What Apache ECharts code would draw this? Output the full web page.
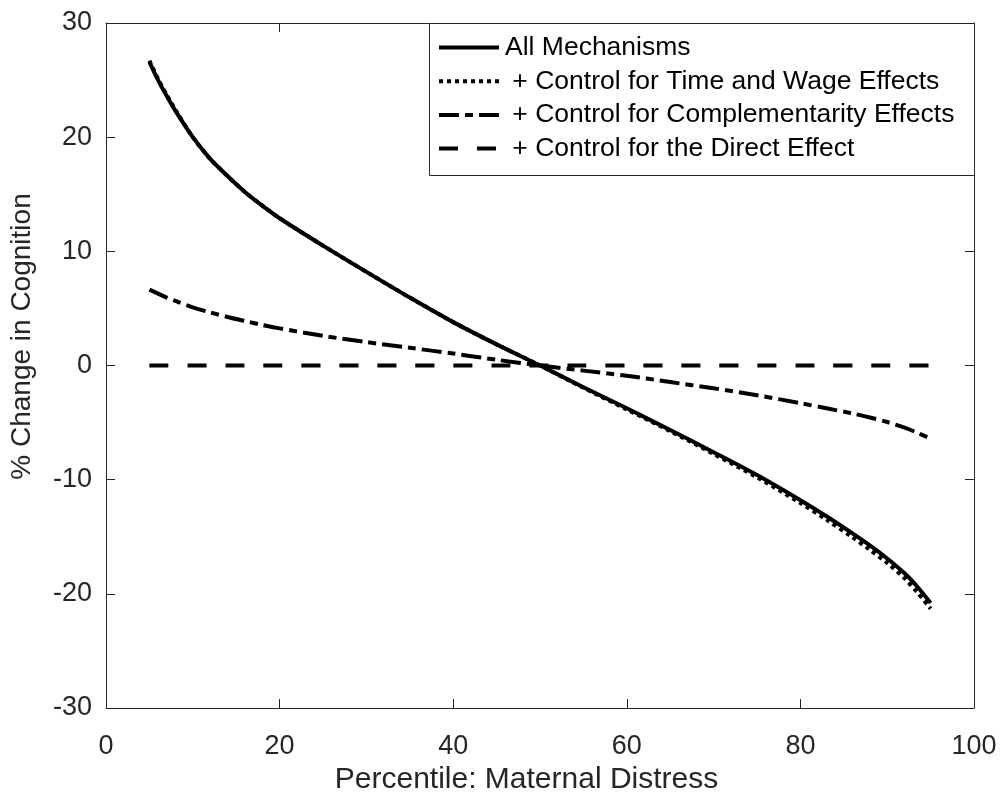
<!DOCTYPE html>
<html>
<head>
<meta charset="utf-8">
<title>% Change in Cognition by Maternal Distress Percentile</title>
<script src="https://cdn.jsdelivr.net/npm/echarts@6/dist/echarts.min.js"></script>
<style>
  html, body { margin: 0; padding: 0; background: #ffffff; }
  #chart { width: 1000px; height: 795px; }
</style>
</head>
<body>
<div id="chart"></div>
<script>
// Percentiles of maternal distress at which the effects are evaluated
const percentiles = [5, 6, 7, 8, 10, 12, 14, 16, 18, 20, 25, 30, 35, 40, 45, 50, 55, 60, 65, 70, 75, 80, 83, 86, 88, 90, 92, 93.5, 95];

// % change in cognition under each decomposition
const allMechanisms   = [26.6, 25.0, 23.6, 22.3, 20.0, 18.1, 16.6, 15.2, 14.0, 12.9, 10.5, 8.2, 5.95, 3.8, 1.85, 0, -1.9, -3.75, -5.65, -7.6, -9.6, -11.8, -13.2, -14.7, -15.75, -16.9, -18.2, -19.4, -20.8];
const timeWage        = [26.7, 25.1, 23.7, 22.4, 20.0, 18.1, 16.6, 15.2, 14.0, 12.9, 10.5, 8.2, 5.95, 3.8, 1.85, 0, -1.95, -3.85, -5.75, -7.75, -9.8, -12.05, -13.5, -15.05, -16.15, -17.3, -18.65, -19.9, -21.3];
const complementarity = [6.65, 6.3, 5.95, 5.65, 5.1, 4.65, 4.25, 3.9, 3.55, 3.25, 2.6, 2.05, 1.55, 1.05, 0.5, 0, -0.45, -0.9, -1.45, -2.0, -2.6, -3.3, -3.75, -4.2, -4.55, -4.95, -5.45, -5.9, -6.4];
const directEffect    = [0, 0, 0, 0, 0, 0, 0, 0, 0, 0, 0, 0, 0, 0, 0, 0, 0, 0, 0, 0, 0, 0, 0, 0, 0, 0, 0, 0, 0];

const seriesNames = [
  'All Mechanisms',
  ' + Control for Time and Wage Effects',
  ' + Control for Complementarity Effects',
  ' + Control for the Direct Effect'
];

const xTicks = [0, 20, 40, 60, 80, 100];
const yTicks = [-30, -20, -10, 0, 10, 20, 30];

const FONT = '"Liberation Sans", Arial, Helvetica, sans-serif';
const AXIS_COLOR = '#262626';

const pairs = (ys) => percentiles.map((p, i) => [p, ys[i]]);

const gridBox = { left: 106, top: 23, width: 868, height: 685, outerBoundsMode: 'none', containLabel: false };

const baseX = {
  type: 'value',
  min: xTicks[0],
  max: xTicks[xTicks.length - 1],
  interval: xTicks[1] - xTicks[0],
  splitLine: { show: false },
  axisLine: { show: true, onZero: false, lineStyle: { color: AXIS_COLOR, width: 1 } },
  axisTick: { show: true, inside: true, length: 9, lineStyle: { color: AXIS_COLOR, width: 1 } }
};
const baseY = {
  type: 'value',
  min: yTicks[0],
  max: yTicks[yTicks.length - 1],
  interval: yTicks[1] - yTicks[0],
  splitLine: { show: false },
  axisLine: { show: true, onZero: false, lineStyle: { color: AXIS_COLOR, width: 1 } },
  axisTick: { show: true, inside: true, length: 9, lineStyle: { color: AXIS_COLOR, width: 1 } }
};

function lineSeries(name, ys, type, z) {
  return {
    name: name,
    type: 'line',
    data: pairs(ys),
    xAxisIndex: 0,
    yAxisIndex: 0,
    smooth: 0.3,
    symbol: 'none',
    showSymbol: false,
    silent: true,
    z: z,
    itemStyle: { color: '#000000' },
    lineStyle: { color: '#000000', width: 4, type: type, cap: 'butt', join: 'round' }
  };
}

const chart = echarts.init(document.getElementById('chart'), null, { renderer: 'canvas' });

chart.setOption({
  backgroundColor: '#ffffff',
  animation: false,
  grid: gridBox,
  graphic: [{
    type: 'rect',
    left: 429,
    top: 23,
    z: 3,
    shape: { width: 545, height: 152 },
    style: { fill: '#ffffff', stroke: AXIS_COLOR, lineWidth: 1 }
  }],
  legend: {
    orient: 'vertical',
    left: 437,
    top: 34,
    padding: 0,
    itemWidth: 60,
    itemHeight: 26,
    itemGap: 6.7,
    z: 5,
    selectedMode: false,
    data: seriesNames,
    itemStyle: { opacity: 0 },
    lineStyle: { width: 4, color: '#000000', cap: 'butt' },
    textStyle: { fontFamily: FONT, fontSize: 26.5, color: '#000000', lineHeight: 26, padding: [0, 0, 0, 1] }
  },
  xAxis: [
    Object.assign({}, baseX, {
      position: 'bottom',
      name: 'Percentile: Maternal Distress',
      nameLocation: 'middle',
      nameGap: 53,
      nameTextStyle: { fontFamily: FONT, fontSize: 30, color: AXIS_COLOR, padding: [0, 27, 0, 0] },
      axisLabel: { show: true, margin: 25, fontFamily: FONT, fontSize: 27, color: AXIS_COLOR }
    }),
    Object.assign({}, baseX, {
      position: 'top',
      axisLabel: { show: false }
    })
  ],
  yAxis: [
    Object.assign({}, baseY, {
      position: 'left',
      name: '% Change in Cognition',
      nameLocation: 'middle',
      nameGap: 70,
      nameTextStyle: { fontFamily: FONT, fontSize: 28, color: AXIS_COLOR, padding: [0, 0, 0, 58] },
      axisLabel: { show: true, margin: 14, fontFamily: FONT, fontSize: 27, color: AXIS_COLOR }
    }),
    Object.assign({}, baseY, {
      position: 'right',
      axisLabel: { show: false }
    })
  ],
  series: [
    lineSeries(seriesNames[0], allMechanisms, 'solid', 6),
    lineSeries(seriesNames[1], timeWage, [4, 4], 5),
    lineSeries(seriesNames[2], complementarity, [20, 6, 8, 6], 4),
    lineSeries(seriesNames[3], directEffect, [19, 19], 3)
  ]
});
</script>
</body>
</html>
